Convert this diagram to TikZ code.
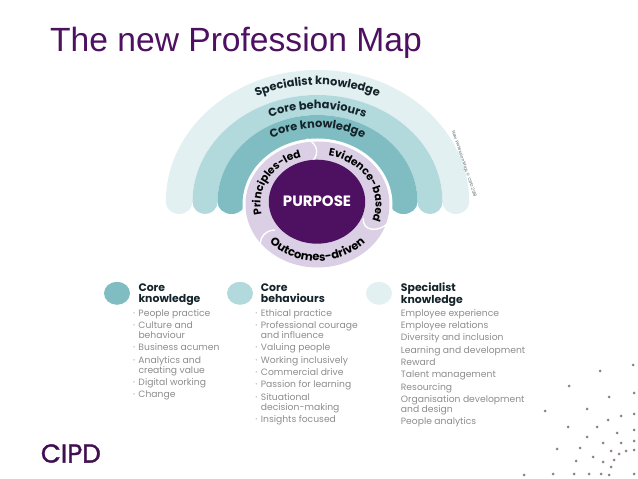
\documentclass[tikz,border=0pt]{standalone}
\usepackage{fontspec}
\setmainfont{Poppins}
\newfontfamily\titlefont{Liberation Sans}
\newfontfamily\logofont[FakeBold=1.4]{Poppins}
\usetikzlibrary{shapes.geometric,decorations.text}
\definecolor{knowcol}{HTML}{7FBDC2}
\definecolor{behavcol}{HTML}{B2D9DC}
\definecolor{specol}{HTML}{E2F0F1}
\definecolor{ringcol}{HTML}{DACFE4}
\definecolor{purplecol}{HTML}{4E1060}
\definecolor{inkcol}{HTML}{14242A}
\definecolor{itemcol}{HTML}{8C8C8C}
\definecolor{dotcol}{HTML}{8F8089}
\newcommand{\arcfont}{\fontsize{11.4}{12}\selectfont\bfseries}
\newcommand{\ringfont}{\fontsize{10.7}{12}\selectfont\bfseries}
\newcommand{\bul}{\llap{\textperiodcentered\hspace{3.5pt}}}
\begin{document}
\begin{tikzpicture}[x=1pt, y=1pt,
	band/.style = {draw=none},
	legend/.style = {ellipse, minimum width=26pt, minimum height=23pt, inner sep=0pt},
	head/.style = {anchor=north west, inner sep=0pt, align=left, text=inkcol, font=\fontsize{10.9}{11.6}\selectfont\bfseries},
	item/.style = {anchor=north west, inner sep=0pt, align=left, text=itemcol, font=\fontsize{9.2}{10}\selectfont},
	arclabel/.style = {decorate, decoration={text along path, text align=center, text={#1}}}]
	\useasboundingbox (0,0) rectangle (638,479);
	\node[anchor=base west, inner sep=0pt, text=purplecol, font=\titlefont\fontsize{33.6}{36}\selectfont] (title) at (50,427) {The new Profession Map};
	\coordinate (c) at (317.5,277);
	% the three bands, outer one first
	\fill[band, specol] (c) ++(-151.7,0) arc[start angle=180, end angle=0, x radius=151.7, y radius=132] arc[start angle=0, end angle=-180, x radius=13.35, y radius=12] arc[start angle=0, end angle=180, x radius=125, y radius=107] arc[start angle=0, end angle=-180, x radius=13.35, y radius=12] -- cycle;
	\fill[band, behavcol] (c) ++(-125,0) arc[start angle=180, end angle=0, x radius=125, y radius=107] arc[start angle=0, end angle=-180, x radius=12.5, y radius=12] arc[start angle=0, end angle=180, x radius=100, y radius=87] arc[start angle=0, end angle=-180, x radius=12.5, y radius=12] -- cycle;
	\fill[band, knowcol] (c) ++(-100,0) arc[start angle=180, end angle=0, x radius=100, y radius=87] arc[start angle=0, end angle=-180, x radius=14, y radius=12] arc[start angle=0, end angle=180, x radius=72, y radius=60] arc[start angle=0, end angle=-180, x radius=14, y radius=12] -- cycle;
	\path[arclabel={|\color{inkcol}\arcfont|Specialist knowledge}] (c) ++(160:139 and 117) arc[start angle=160, end angle=20, x radius=139, y radius=117];
	\path[arclabel={|\color{inkcol}\arcfont|Core behaviours}] (c) ++(160:113 and 93) arc[start angle=160, end angle=20, x radius=113, y radius=93];
	\path[arclabel={|\color{inkcol}\arcfont|Core knowledge}] (c) ++(160:90 and 74) arc[start angle=160, end angle=20, x radius=90, y radius=74];
	% ring and centre
	\node[ellipse, fill=white, minimum width=150pt, minimum height=132pt, inner sep=0pt] (rim) at (317.5,274.5) {};
	\node[ellipse, fill=ringcol, minimum width=144pt, minimum height=126pt, inner sep=0pt] (ring) at (rim) {};
	\coordinate (s1a) at (306.7,340);
	\coordinate (s1b) at (306.7,314);
	\coordinate (s2a) at (363.3,260.7);
	\coordinate (s2b) at (388.3,256);
	\coordinate (s3a) at (275,249);
	\coordinate (s3b) at (265,222.3);
	\draw[white, line width=1.4pt] (s1a) .. controls (318,336) and (322,322) .. (s1b);
	\draw[white, line width=1.4pt] (s2a) .. controls (362,248) and (378,246) .. (s2b);
	\draw[white, line width=1.4pt] (s3a) .. controls (262,249) and (255,235) .. (s3b);
	\node[ellipse, fill=purplecol, text=white, minimum width=92pt, minimum height=84pt, inner sep=0pt, font=\fontsize{15}{16}\selectfont\bfseries] (purpose) at (317,277.3) {PURPOSE};
	\path[arclabel={|\ringfont|Principles-led}] (317.5,275) ++(205:57 and 49) arc[start angle=205, end angle=95, x radius=57, y radius=49];
	\path[arclabel={|\ringfont|Evidence-based}] (317.5,275) ++(82:58 and 49) arc[start angle=82, end angle=-23, x radius=58, y radius=49];
	\path[arclabel={|\arcfont|Outcomes-driven}] (317.5,277) ++(200:66 and 59) arc[start angle=200, end angle=340, x radius=66, y radius=59];
	\node[rotate=-71.6, inner sep=0pt, text=inkcol!70, font=\fontsize{4.3}{5}\selectfont] (credit) at (464,315) {New Profession Map, © CIPD 2018};
	% legend
	\node[legend, fill=knowcol] (l1) at (117,185.7) {};
	\node[legend, fill=behavcol] (l2) at (240,185.7) {};
	\node[legend, fill=specol] (l3) at (379,185.7) {};
	\node[head] (h1) at (138.3,196) {\vphantom{l}Core\\knowledge};
	\node[head] (h2) at (260.7,196) {\vphantom{l}Core\\behaviours};
	\node[head] (h3) at (400.7,196) {Specialist\\knowledge};
	\node[item] (k1) at (138.3,170) {\bul People practice};
	\node[item] (k2) at (138.3,157.7) {\bul Culture and\\behaviour};
	\node[item] (k3) at (138.3,135.3) {\bul Business acumen};
	\node[item] (k4) at (138.3,123) {\bul Analytics and\\creating value};
	\node[item] (k5) at (138.3,101) {\bul Digital working};
	\node[item] (k6) at (138.3,88.7) {\bul Change};
	\node[item] (b1) at (260.7,170) {\bul Ethical practice};
	\node[item] (b2) at (260.7,157.7) {\bul Professional courage\\and influence};
	\node[item] (b3) at (260.7,135.3) {\bul Valuing people};
	\node[item] (b4) at (260.7,123) {\bul Working inclusively};
	\node[item] (b5) at (260.7,110.7) {\bul Commercial drive};
	\node[item] (b6) at (260.7,98.4) {\bul Passion for learning};
	\node[item] (b7) at (260.7,86) {\bul Situational\\decision-making};
	\node[item] (b8) at (260.7,63.7) {\bul Insights focused};
	\node[item] (s1) at (400.7,170) {Employee experience};
	\node[item] (s2) at (400.7,157.7) {Employee relations};
	\node[item] (s3) at (400.7,145.4) {Diversity and inclusion};
	\node[item] (s4) at (400.7,133) {Learning and development};
	\node[item] (s5) at (400.7,120.7) {Reward};
	\node[item] (s6) at (400.7,108.4) {Talent management};
	\node[item] (s7) at (400.7,96) {Resourcing};
	\node[item] (s8) at (400.7,83.7) {Organisation development\\and design};
	\node[item] (s9) at (400.7,61.4) {People analytics};
	\node[inner sep=0pt, text=purplecol!85!black, font=\logofont\fontsize{26}{27}\selectfont] (cipd) at (70.8,25.5) {CIPD};
	% dots
	\foreach \x/\y in {633/365,600/371,569/386,609/397,634/393,587/409,545/411,621/416,634/414,608/420,568/427,597/427,617/433,634/430,587/437,603/443,621/443,634/441,557/449,580/448,611/451,619/454,626/451,634/450,593/457,576/461,603/462,614/460,611/467,524/475,553/474,574/474,589/474,601/474,609/475,634/474}
		\fill[dotcol] (\x,479-\y) circle (1.5);
\end{tikzpicture}
\end{document}
